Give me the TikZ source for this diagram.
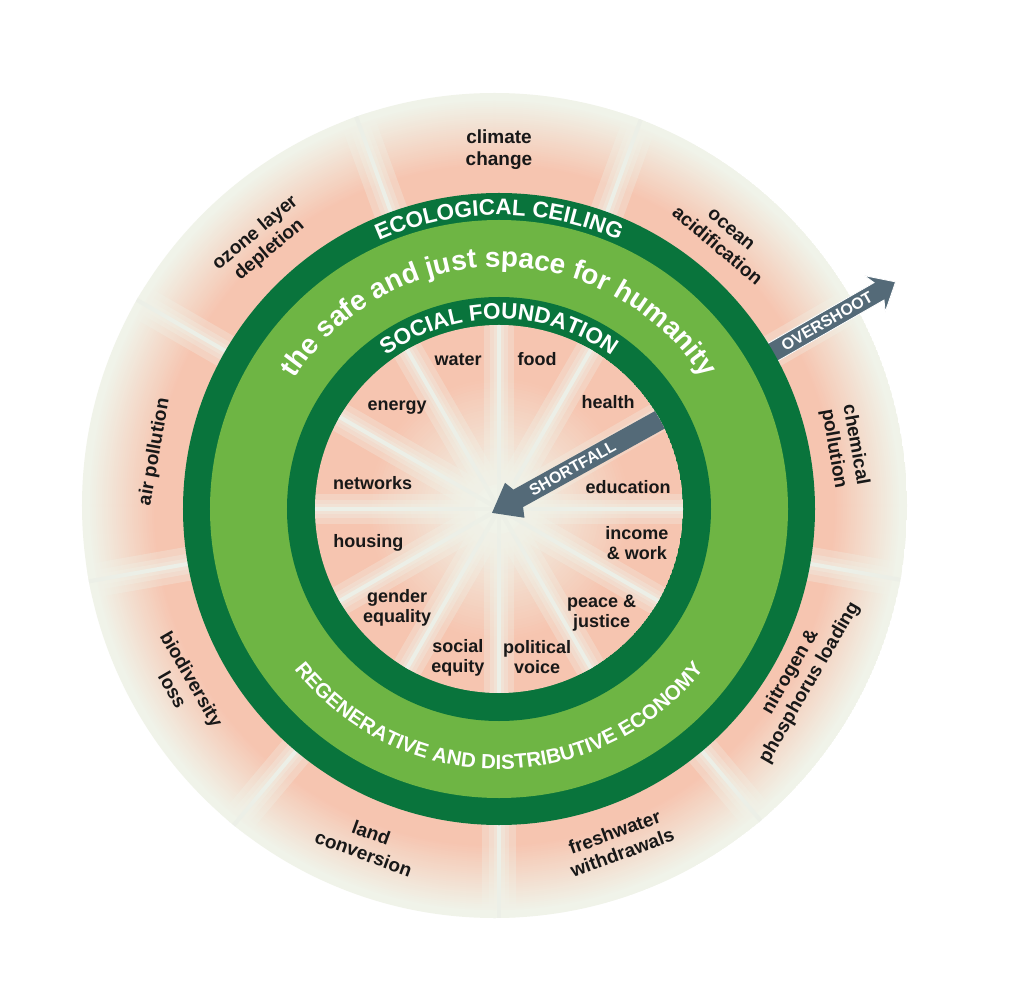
\documentclass[tikz,border=0pt]{standalone}
\usepackage{fontspec}
\setmainfont{Liberation Sans}
\usetikzlibrary{decorations.text}

\definecolor{ceilgreen}{RGB}{9,116,60}
\definecolor{spacegreen}{RGB}{110,181,68}
\definecolor{blush}{RGB}{246,197,176}
\definecolor{paleground}{RGB}{240,243,233}
\definecolor{spokewhite}{RGB}{236,239,231}
\definecolor{slate}{RGB}{84,106,120}
\definecolor{ink}{RGB}{24,24,24}

\newcommand\ceilingfont{\fontsize{22.5}{22.5}\selectfont\bfseries}
\newcommand\spacefont{\fontsize{28}{28}\selectfont\bfseries}
\newcommand\economyfont{\fontsize{20.5}{20.5}\selectfont\bfseries}

\begin{document}
\begin{tikzpicture}[
    x=1pt, y=1pt,
    inlabel/.style = {font=\fontsize{18}{20}\selectfont\bfseries, text=ink, align=center, inner sep=0pt},
    outlabel/.style = {font=\fontsize{19}{22}\selectfont\bfseries, text=ink, align=center, inner sep=0pt},
    arrowlabel/.style = {font=\fontsize{16}{16}\selectfont\bfseries, text=white, inner sep=0pt},
    ringtext/.style = {decorate, decoration={text along path, text align=center, text color=white}},
    spoke/.style = {draw=spokewhite, line width=4pt},
    spokeglow/.style = {draw=paleground, line width=#1, opacity=0.3},
    gapshape/.style = {fill=slate, draw=white, line width=0.8pt, line join=miter}
]

    % frame
    \fill[white] (-499,-497) rectangle (525,509);
    \useasboundingbox (-499,-497) rectangle (525,509);
    \coordinate (rimcentre) at (-4.5,3.5);

    % === OUTER RING: ecological ceiling sectors ===
    \begin{scope}
        \clip (rimcentre) circle[radius=412.5];
        \foreach \i in {0,...,49} {
            \pgfmathsetmacro\rr{412.5-2*\i}
            \pgfmathsetmacro\pp{max(0,min(100,(2*\i-6)*100/66))}
            \fill[blush!\pp!paleground] (rimcentre) circle[radius=\rr];
        }
        \foreach \a in {30,70,...,350} {
            \foreach \w in {34,20,11}
                \draw[spokeglow=\w pt] (\a:300) -- (\a:430);
            \draw[spoke] (\a:300) -- (\a:430);
        }
    \end{scope}

    % overshoot arrow
    \begin{scope}[rotate=29.8]
        \path[gapshape] (300,-10) -- (438,-10) -- (433,-21) -- (457,0)
            -- (433,21) -- (438,10) -- (300,10) -- cycle;
    \end{scope}

    % === DOUGHNUT ===
    \fill[ceilgreen] (0,0) circle[radius=316];
    \fill[spacegreen] (0,0) circle[radius=289];
    \fill[ceilgreen] (0,0) circle[radius=212];

    % === INNER CIRCLE: social foundation sectors ===
    \begin{scope}
        \clip (0,0) circle[radius=184];
        \foreach \i in {0,...,60} {
            \pgfmathsetmacro\rr{184-3*\i}
            \pgfmathsetmacro\pp{max(0,min(100,(\rr/184-0.12)*100/0.6))}
            \fill[blush!\pp!paleground] (0,0) circle[radius=\rr];
        }
        \foreach \a in {0,30,...,330} {
            \foreach \w in {30,18,10}
                \draw[spokeglow=\w pt] (0,0) -- (\a:190);
            \draw[spoke] (0,0) -- (\a:190);
        }
        % shortfall arrow
        \begin{scope}[rotate=29]
            \path[gapshape, draw=none] (-8,0) -- (18,20) -- (22,10) -- (200,10)
                -- (200,-10) -- (22,-10) -- (18,-20) -- cycle;
        \end{scope}
    \end{scope}

    % === RING TEXTS ===
    \path[ringtext, decoration={text={|\ceilingfont|ECOLOGICAL CEILING}}]
        (140:294) arc[start angle=140, end angle=40, radius=294];
    \path[ringtext, decoration={text={|\spacefont|the safe and just space for humanity}}]
        (165:242) arc[start angle=165, end angle=15, radius=242];
    \path[ringtext, decoration={text={|\ceilingfont|SOCIAL FOUNDATION}}]
        (140:190) arc[start angle=140, end angle=40, radius=190];
    \path[ringtext, decoration={text={|\economyfont|REGENERATIVE AND DISTRIBUTIVE ECONOMY}}]
        (195:260) arc[start angle=195, end angle=345, radius=260];

    % === SOCIAL FOUNDATION LABELS ===
    \node[inlabel] (food) at (75.8:155) {food};
    \node[inlabel] (health) at (44.5:153) {health};
    \node[inlabel] (education) at (9.7:131) {education};
    \node[inlabel] (income) at (-13.8:142) {income\\\& work};
    \node[inlabel] (peace) at (-45.3:146) {peace \&\\justice};
    \node[inlabel] (voice) at (-75.6:153) {political\\voice};
    \node[inlabel] (equity) at (-105.5:154) {social\\equity};
    \node[inlabel] (gender) at (-135.9:142) {gender\\equality};
    \node[inlabel] (housing) at (-165.4:135) {housing};
    \node[inlabel] (networks) at (168.3:129) {networks};
    \node[inlabel] (energy) at (135:144) {energy};
    \node[inlabel] (water) at (105.3:155) {water};

    % === ECOLOGICAL CEILING LABELS ===
    \node[outlabel] (climate) at (90:359) {climate\\change};
    \node[outlabel, rotate=-40] (ocean) at (50.3:352) {ocean\\acidification};
    \node[outlabel, rotate=-80] (chemical) at (10.2:351) {chemical\\pollution};
    \node[outlabel, rotate=60] (nitrogen) at (-29.2:345) {nitrogen \&\\phosphorus loading};
    \node[outlabel, rotate=20] (freshwater) at (-70.3:354) {freshwater\\withdrawals};
    \node[outlabel, rotate=-20] (land) at (-111.5:359) {land\\conversion};
    \node[outlabel, rotate=-60] (biodiversity) at (-151:362) {biodiversity\\loss};
    \node[outlabel, rotate=80] (air) at (170.6:349) {air pollution};
    \node[outlabel, rotate=40] (ozone) at (131.5:357) {ozone layer\\depletion};

    % arrow labels
    \node[arrowlabel, rotate=29.8] (overshoot) at (29.8:378) {OVERSHOOT};
    \node[arrowlabel, rotate=29] (shortfall) at (29:84) {SHORTFALL};

\end{tikzpicture}
\end{document}
